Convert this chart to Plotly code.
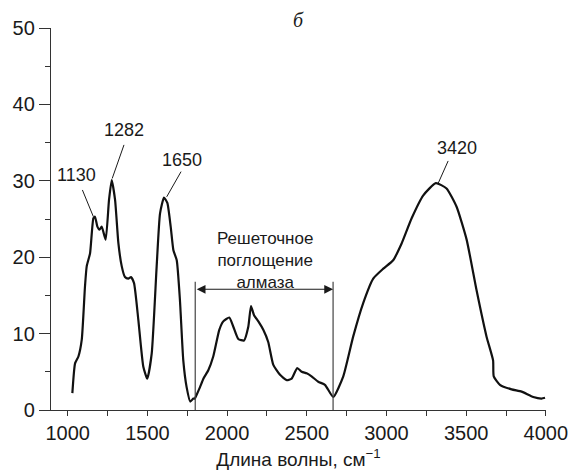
import plotly.graph_objects as go

# Spectrum (wavenumber, cm^-1) vs absorption
wavenumber = [1029, 1046, 1067, 1088, 1108, 1119, 1140, 1161, 1171, 1186, 1199, 1213, 1238,
              1259, 1276, 1297, 1318, 1339, 1359, 1380, 1397, 1416, 1443, 1474, 1499, 1527,
              1558, 1579, 1604, 1625, 1646, 1663, 1684, 1704, 1725, 1746, 1769, 1788, 1798,
              1809, 1830, 1851, 1882, 1913, 1951, 1976, 2014, 2039, 2070, 2106, 2133, 2150,
              2169, 2196, 2227, 2258, 2290, 2332, 2374, 2405, 2440, 2468, 2499, 2530, 2572,
              2614, 2666, 2729, 2791, 2854, 2917, 2980, 3042, 3095, 3158, 3231, 3310, 3377,
              3440, 3503, 3565, 3628, 3669, 3673, 3712, 3785, 3848, 3921, 3973, 3995]
absorption = [2.2, 6.1, 7.0, 9.2, 16.1, 18.8, 20.5, 25.1, 25.3, 24.0, 23.6, 24.0, 22.3,
              27.5, 30.1, 27.5, 21.8, 18.8, 17.4, 17.2, 17.4, 16.6, 11.8, 5.7, 4.1, 7.4,
              18.8, 25.7, 27.8, 27.1, 24.0, 20.9, 19.6, 14.4, 6.5, 3.0, 1.1, 1.5, 1.5,
              2.0, 3.0, 4.1, 5.2, 7.0, 10.5, 11.6, 12.1, 10.9, 9.3, 9.1, 10.9, 13.6,
              12.4, 11.6, 10.5, 8.9, 5.9, 4.6, 3.9, 4.1, 5.5, 5.0, 4.8, 4.4, 3.7,
              3.3, 1.7, 4.4, 9.6, 14.0, 17.2, 18.5, 19.6, 21.8, 25.1, 28.1, 29.7, 29.0,
              26.6, 22.3, 15.7, 9.6, 6.5, 4.4, 3.3, 2.7, 2.4, 1.7, 1.5, 1.6]

# Peak labels: text, label position, leader line (start -> end)
peak_labels = ["1130", "1282", "1650", "3420"]
peak_label_x = [1056, 1351, 1715, 3440]
peak_label_y = [30.8, 36.6, 32.7, 34.3]
leader_x0 = [1092, 1353, 1711, 3387]
leader_y0 = [28.8, 34.7, 31.2, 32.6]
leader_x1 = [1161, 1279, 1621, 3325]
leader_y1 = [25.3, 30.3, 27.9, 29.7]

# Lattice absorption region
lattice_bounds = [1800, 2665]
lattice_top = 16.8
lattice_arrow_y = 15.8
lattice_text = "Решеточное<br>поглощение<br>алмаза"
panel_label = "б"

x_ticks = [1000, 1500, 2000, 2500, 3000, 3500, 4000]
y_ticks = [0, 10, 20, 30, 40, 50]

FONT = "Liberation Sans, Arial, Helvetica, sans-serif"
INK = "#1a1a1a"

fig = go.Figure()
fig.add_trace(go.Scatter(
    x=wavenumber, y=absorption, mode="lines",
    line=dict(color="#111111", width=2.2, shape="spline", smoothing=0.5),
    hoverinfo="skip", showlegend=False,
))

shapes = []
for x0, y0, x1, y1 in zip(leader_x0, leader_y0, leader_x1, leader_y1):
    shapes.append(dict(type="line", xref="x", yref="y", x0=x0, y0=y0, x1=x1, y1=y1,
                       line=dict(color=INK, width=1)))
for xb in lattice_bounds:
    shapes.append(dict(type="line", xref="x", yref="y", x0=xb, y0=0, x1=xb, y1=lattice_top,
                       line=dict(color="#444444", width=1.2)))

annotations = []
for t, x, y in zip(peak_labels, peak_label_x, peak_label_y):
    annotations.append(dict(x=x, y=y, xref="x", yref="y", text=t, showarrow=False,
                            font=dict(family=FONT, size=18, color=INK),
                            xanchor="center", yanchor="middle"))
annotations.append(dict(x=2238, y=19.6, xref="x", yref="y", text=lattice_text,
                        showarrow=False, font=dict(family=FONT, size=17, color=INK),
                        xanchor="center", yanchor="middle", align="center"))
annotations.append(dict(x=lattice_bounds[1], y=lattice_arrow_y, ax=lattice_bounds[0],
                        ay=lattice_arrow_y, xref="x", yref="y", axref="x", ayref="y",
                        text="", showarrow=True, arrowside="end+start",
                        arrowhead=2, startarrowhead=2, arrowsize=1.6, startarrowsize=1.6,
                        arrowwidth=1.1, arrowcolor=INK))
annotations.append(dict(x=0.501, y=1.021, xref="paper", yref="paper",
                        text="<i>" + panel_label + "</i>", showarrow=False,
                        font=dict(family="Liberation Serif, Times New Roman, serif",
                                  size=20, color=INK),
                        xanchor="center", yanchor="middle"))

fig.update_layout(
    width=572, height=476,
    margin=dict(l=51, r=26, t=28, b=66, autoexpand=False),
    paper_bgcolor="white", plot_bgcolor="white",
    font=dict(family=FONT, color=INK),
    shapes=shapes, annotations=annotations,
    showlegend=False,
)
fig.update_xaxes(
    range=[895, 4001], showgrid=False, zeroline=False,
    showline=True, linecolor="#333333", linewidth=1.3,
    tickmode="array", tickvals=x_ticks, ticktext=[str(v) for v in x_ticks],
    ticks="outside", ticklen=5, tickwidth=1.2, tickcolor="#333333",
    tickfont=dict(family=FONT, size=20, color=INK),
    minor=dict(tickmode="array", tickvals=[1250, 1750, 2250, 2750, 3250, 3750],
               ticks="outside", ticklen=5, tickwidth=1.2, tickcolor="#333333", showgrid=False),
    title=dict(text="Длина волны, см<sup>−1</sup>", font=dict(family=FONT, size=19, color=INK),
               standoff=9),
    automargin=False,
)
fig.update_yaxes(
    range=[0, 50], showgrid=False, zeroline=False,
    showline=True, linecolor="#333333", linewidth=1.3,
    tickmode="array", tickvals=y_ticks, ticktext=[str(v) for v in y_ticks],
    ticks="outside", ticklen=11, tickwidth=1.2, tickcolor="#333333",
    tickfont=dict(family=FONT, size=20, color=INK),
    minor=dict(tickmode="array", tickvals=[5, 15, 25, 35, 45],
               ticks="outside", ticklen=5, tickwidth=1.2, tickcolor="#333333", showgrid=False),
    automargin=False,
)

fig.write_html("out.html")
